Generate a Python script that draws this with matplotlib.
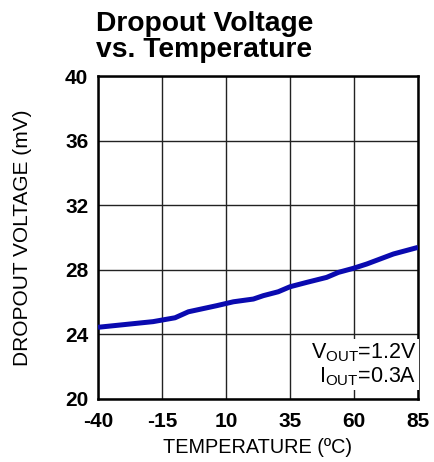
import numpy as np
import matplotlib
matplotlib.use("Agg")
import matplotlib.pyplot as plt

# Data
temp_c = [-40, -18.5, -9.9, -4.7, 6.4, 12.9, 20.7, 24.6, 30.4, 35, 41.5, 49.3, 53.9, 59.7, 65, 75.4, 85]
dropout_mv = [24.44, 24.79, 25.03, 25.4, 25.78, 26.02, 26.19, 26.4, 26.64, 26.95, 27.22, 27.53, 27.84, 28.09, 28.36, 28.98, 29.39]

x_ticks = [-40, -15, 10, 35, 60, 85]
y_ticks = [20, 24, 28, 32, 36, 40]

plt.rcParams['font.family'] = ['Liberation Sans', 'DejaVu Sans']
plt.rcParams['axes.unicode_minus'] = False
plt.rcParams['mathtext.fontset'] = 'custom'
plt.rcParams['mathtext.rm'] = 'Liberation Sans'
plt.rcParams['mathtext.it'] = 'Liberation Sans'
plt.rcParams['mathtext.bf'] = 'Liberation Sans:bold'

fig = plt.figure(figsize=(4.35, 4.62), dpi=100)
ax = fig.add_axes([0.2253, 0.1364, 0.7356, 0.699])

ax.plot(temp_c, dropout_mv, color='#0a0ab0', lw=3.6, solid_capstyle='butt', zorder=3)

ax.set_xlim(-40, 85)
ax.set_ylim(20, 40)
ax.set_xticks(x_ticks)
ax.set_yticks(y_ticks)
ax.tick_params(length=0, labelsize=15)
ax.tick_params(axis='y', pad=7)
ax.tick_params(axis='x', pad=9.5)
for lab in ax.get_xticklabels() + ax.get_yticklabels():
    lab.set_fontweight('bold')

ax.grid(True, color='#222222', lw=1.0)
for sp in ax.spines.values():
    sp.set_linewidth(1.8)
    sp.set_color('black')

ax.set_xlabel("TEMPERATURE (ºC)", fontsize=14.3, labelpad=5)
ax.set_ylabel("DROPOUT VOLTAGE (mV)", fontsize=15, labelpad=24)

# condition box
ax.text(0.995, 0.035, "V$_{\\mathrm{OUT}}$=1.2V\nI$_{\\mathrm{OUT}}$=0.3A", transform=ax.transAxes,
        ha='right', va='bottom', fontsize=15.5, linespacing=1.05,
        bbox=dict(facecolor='white', edgecolor='none', pad=1.5), zorder=4)

fig.text(96 / 435, 1 - 11 / 462, "Dropout Voltage\nvs. Temperature", ha='left', va='top',
         fontsize=20.3, fontweight='bold', linespacing=1.0)

fig.savefig("out.png", dpi=100)
